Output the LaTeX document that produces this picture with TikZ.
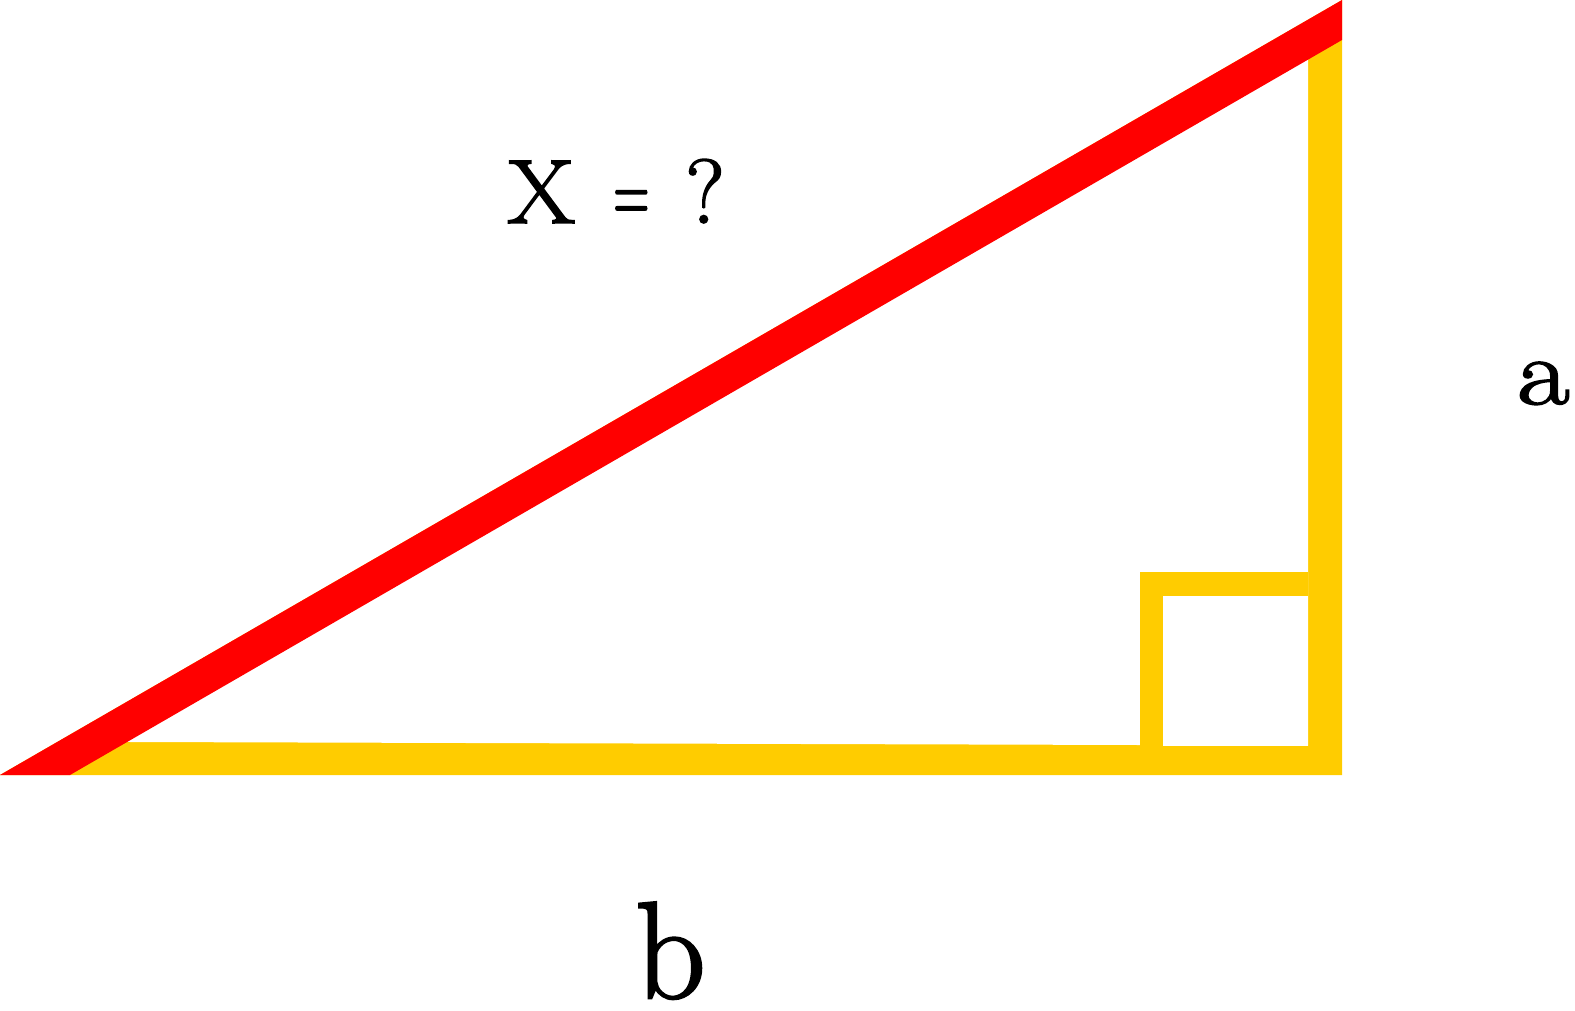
\documentclass[tikz,border=0pt]{standalone}
\usepackage{fontspec}
\newfontfamily\heavy{Latin Modern Roman}[FakeBold=1.8]
\begin{document}
\begin{tikzpicture}[x=1pt,y=-1pt,
  lbl/.style={inner sep=0pt,anchor=base west,text=black}]
\definecolor{band}{HTML}{FF0000}
\definecolor{gold}{HTML}{FFCC00}
\useasboundingbox (0,0) rectangle (1575,1010);
% yellow triangle body
\fill[gold] (0,775) -- (1342,775) -- (1342,0) -- cycle;
% white interior
\fill[white] (100,741.9) -- (1308,745.5) -- (1308,50) -- cycle;
% right-angle marker
\fill[gold] (1140,572) rectangle (1308,745.5);
\fill[white] (1163,596) rectangle (1308,745.5);
% red hypotenuse band
\fill[band] (0,775) -- (70,775) -- (1342,40) -- (1342,0) -- cycle;
% labels
\node[lbl,font=\heavy\fontsize{91}{100}\selectfont] (eq) at (507,223)
  {\scalebox{1.08}[1]{X}\hspace{38pt}\scalebox{0.55}[1]{=}\hspace{36pt}?};
\node[lbl,font=\heavy\fontsize{95}{110}\selectfont] (la) at (1517,404) {\scalebox{1.2}[1]{a}};
\node[lbl,font=\heavy\fontsize{138}{150}\selectfont] (lb) at (635,998) {b};
\end{tikzpicture}
\end{document}
